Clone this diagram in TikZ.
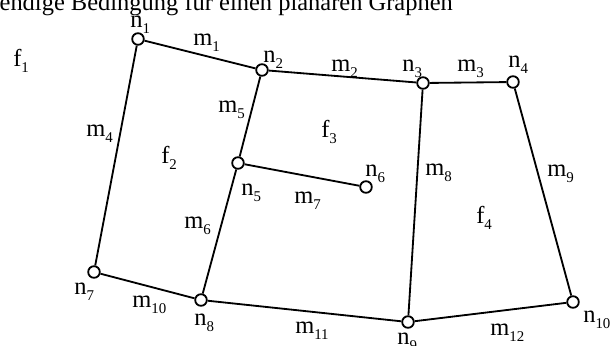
\documentclass[tikz,border=0pt]{standalone}
\usepackage{fontspec}
\setmainfont{Liberation Serif}
\usepackage{tikz}
\usetikzlibrary{positioning}
\newcommand{\sub}[1]{\raisebox{-0.25em}{\fontsize{10.6}{12}\selectfont #1}}

\begin{document}
\begin{tikzpicture}[
    x=0.025cm, y=-0.025cm,
    font=\fontsize{17.4}{20}\selectfont,
    vertex/.style={circle, draw, fill=white, line width=1.3pt, inner sep=0pt, minimum size=0.29cm},
    lbl/.style={anchor=base west, inner sep=0pt},
    edge/.style={line width=1.3pt},
]
    \useasboundingbox (0,0) rectangle (615,345);

    % title (cut off by the frame)
    \node[lbl] (title) at (-55,10) {Notwendige Bedingung für einen planaren Graphen};

    % vertices
    \node[vertex] (n1) at (138,39) {};
    \node[vertex] (n2) at (262,70) {};
    \node[vertex] (n3) at (423,83) {};
    \node[vertex] (n4) at (513,82) {};
    \node[vertex] (n5) at (238,163) {};
    \node[vertex] (n6) at (366,187) {};
    \node[vertex] (n7) at (94,272) {};
    \node[vertex] (n8) at (201,300) {};
    \node[vertex] (n9) at (408,322) {};
    \node[vertex] (n10) at (573,302) {};

    % edges
    \draw[edge] (n1) -- (n2);
    \draw[edge] (n2) -- (n3);
    \draw[edge] (n3) -- (n4);
    \draw[edge] (n1) -- (n7);
    \draw[edge] (n2) -- (n5);
    \draw[edge] (n5) -- (n8);
    \draw[edge] (n5) -- (n6);
    \draw[edge] (n3) -- (n9);
    \draw[edge] (n4) -- (n10);
    \draw[edge] (n7) -- (n8);
    \draw[edge] (n8) -- (n9);
    \draw[edge] (n9) -- (n10);

    % vertex names
    \node[lbl] (ln1) at (130,27) {n\sub{1}};
    \node[lbl] (ln2) at (263,62) {n\sub{2}};
    \node[lbl] (ln3) at (402,71) {n\sub{3}};
    \node[lbl] (ln4) at (508,67) {n\sub{4}};
    \node[lbl] (ln5) at (241,195) {n\sub{5}};
    \node[lbl] (ln6) at (365,176) {n\sub{6}};
    \node[lbl] (ln7) at (74,294) {n\sub{7}};
    \node[lbl] (ln8) at (194,325) {n\sub{8}};
    \node[lbl] (ln9) at (397,344) {n\sub{9}};
    \node[lbl] (ln10) at (583,322) {n\sub{10}};

    % edge names
    \node[lbl] (m1) at (193,45) {m\sub{1}};
    \node[lbl] (m2) at (331,71) {m\sub{2}};
    \node[lbl] (m3) at (457,71) {m\sub{3}};
    \node[lbl] (m4) at (86,136) {m\sub{4}};
    \node[lbl] (m5) at (218,112) {m\sub{5}};
    \node[lbl] (m6) at (184,228) {m\sub{6}};
    \node[lbl] (m7) at (294,203) {m\sub{7}};
    \node[lbl] (m8) at (425,175) {m\sub{8}};
    \node[lbl] (m9) at (547,176) {m\sub{9}};
    \node[lbl] (m10) at (132,307) {m\sub{10}};
    \node[lbl] (m11) at (295,333) {m\sub{11}};
    \node[lbl] (m12) at (490,335) {m\sub{12}};

    % faces
    \node[lbl] (f1) at (13,66) {f\sub{1}};
    \node[lbl] (f2) at (161,163) {f\sub{2}};
    \node[lbl] (f3) at (321,137) {f\sub{3}};
    \node[lbl] (f4) at (476,223) {f\sub{4}};
\end{tikzpicture}
\end{document}
